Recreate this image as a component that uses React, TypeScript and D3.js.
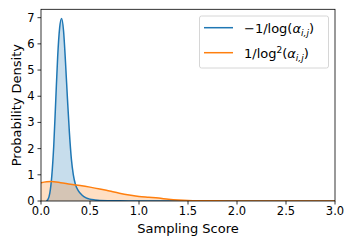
import React from "react";
import * as d3 from "d3";

const blueX = [0.055, 0.07, 0.09, 0.11, 0.13, 0.15, 0.17, 0.19, 0.21, 0.23, 0.25, 0.27, 0.29, 0.31, 0.33, 0.35, 0.38, 0.42, 0.46, 0.5, 0.55, 0.6, 0.7, 0.8, 1.0, 1.2, 1.5, 2.0, 3.0];
const blueY = [0, 0.05, 0.3, 0.95, 2.1, 3.8, 5.5, 6.6, 6.97, 6.5, 5.3, 3.9, 2.6, 1.6, 1.0, 0.65, 0.4, 0.22, 0.12, 0.07, 0.04, 0.02, 0.01, 0.005, 0.002, 0.001, 0, 0, 0];
const orangeX = [0, 0.1, 0.2, 0.3, 0.4, 0.5, 0.6, 0.7, 0.8, 0.9, 1.0, 1.1, 1.2, 1.3, 1.4, 1.5, 1.6, 1.8, 2.0, 2.5, 3.0];
const orangeY = [0.7, 0.74, 0.7, 0.64, 0.59, 0.53, 0.46, 0.38, 0.3, 0.23, 0.17, 0.14, 0.11, 0.07, 0.04, 0.02, 0.01, 0.005, 0.002, 0, 0];
const xTicks = [0, 0.5, 1.0, 1.5, 2.0, 2.5, 3.0];
const yTicks = [0, 1, 2, 3, 4, 5, 6, 7];

const W = 349, H = 241;
const L = 41, R = 335, T = 9.3, B = 201;
const FONT = "DejaVu Sans";

export default function App() {
  const x = d3.scaleLinear().domain([0, 3]).range([L, R]);
  const y = d3.scaleLinear().domain([0, 7.32]).range([B, T]);
  const blue = blueX.map((v, i) => [v, blueY[i]] as [number, number]);
  const orange = orangeX.map((v, i) => [v, orangeY[i]] as [number, number]);
  const area = d3.area<[number, number]>().x(d => x(d[0])).y0(y(0)).y1(d => y(d[1])).curve(d3.curveMonotoneX);
  const line = d3.line<[number, number]>().x(d => x(d[0])).y(d => y(d[1])).curve(d3.curveMonotoneX);
  const c1 = "#1f77b4", c2 = "#ff7f0e";
  return (
    <svg width={W} height={H} style={{ position: "fixed", left: 0, top: 0, background: "#fff" }} fontFamily={FONT}>
      <defs>
        <clipPath id="clip"><rect x={L} y={T} width={R - L} height={B - T} /></clipPath>
      </defs>
      <g clipPath="url(#clip)">
        <path d={area(blue)!} fill={c1} fillOpacity={0.25} />
        <path d={area(orange)!} fill={c2} fillOpacity={0.25} />
        <path d={line(blue)!} fill="none" stroke={c1} strokeWidth={1.5} />
        <path d={line(orange)!} fill="none" stroke={c2} strokeWidth={1.5} />
      </g>
      <rect x={L} y={T} width={R - L} height={B - T} fill="none" stroke="#000" strokeWidth={0.8} />
      {xTicks.map(t => (
        <g key={"x" + t}>
          <line x1={x(t)} x2={x(t)} y1={B} y2={B + 3.5} stroke="#000" strokeWidth={0.8} />
          <text x={x(t)} y={B + 14} fontSize={11.5} textAnchor="middle" fill="#000">{t.toFixed(1)}</text>
        </g>
      ))}
      {yTicks.map(t => (
        <g key={"y" + t}>
          <line x1={L - 3.5} x2={L} y1={y(t)} y2={y(t)} stroke="#000" strokeWidth={0.8} />
          <text x={L - 6.5} y={y(t) + 4} fontSize={11.5} textAnchor="end" fill="#000">{t}</text>
        </g>
      ))}
      <text x={(L + R) / 2} y={233} fontSize={13} textAnchor="middle" fill="#000">Sampling Score</text>
      <text transform={`translate(21,${(T + B) / 2}) rotate(-90)`} fontSize={13} textAnchor="middle" fill="#000">Probability Density</text>
      <g>
        <rect x={199.5} y={16} width={129} height={52} rx={2} fill="#fff" fillOpacity={0.8} stroke="#ccc" strokeWidth={0.8} />
        <line x1={204} x2={233} y1={27.7} y2={27.7} stroke={c1} strokeWidth={1.5} />
        <line x1={204} x2={233} y1={52.7} y2={52.7} stroke={c2} strokeWidth={1.5} />
        <text x={244} y={32.5} fontSize={13} fill="#000">
          <tspan>−1/log(</tspan><tspan fontStyle="italic">α</tspan><tspan fontSize={9} fontStyle="italic" dy={3}>i,j</tspan><tspan dy={-3}>)</tspan>
        </text>
        <text x={244} y={57.5} fontSize={13} fill="#000">
          <tspan>1/log</tspan><tspan fontSize={9} dy={-5}>2</tspan><tspan dy={5}>(</tspan><tspan fontStyle="italic">α</tspan><tspan fontSize={9} fontStyle="italic" dy={3}>i,j</tspan><tspan dy={-3}>)</tspan>
        </text>
      </g>
    </svg>
  );
}
